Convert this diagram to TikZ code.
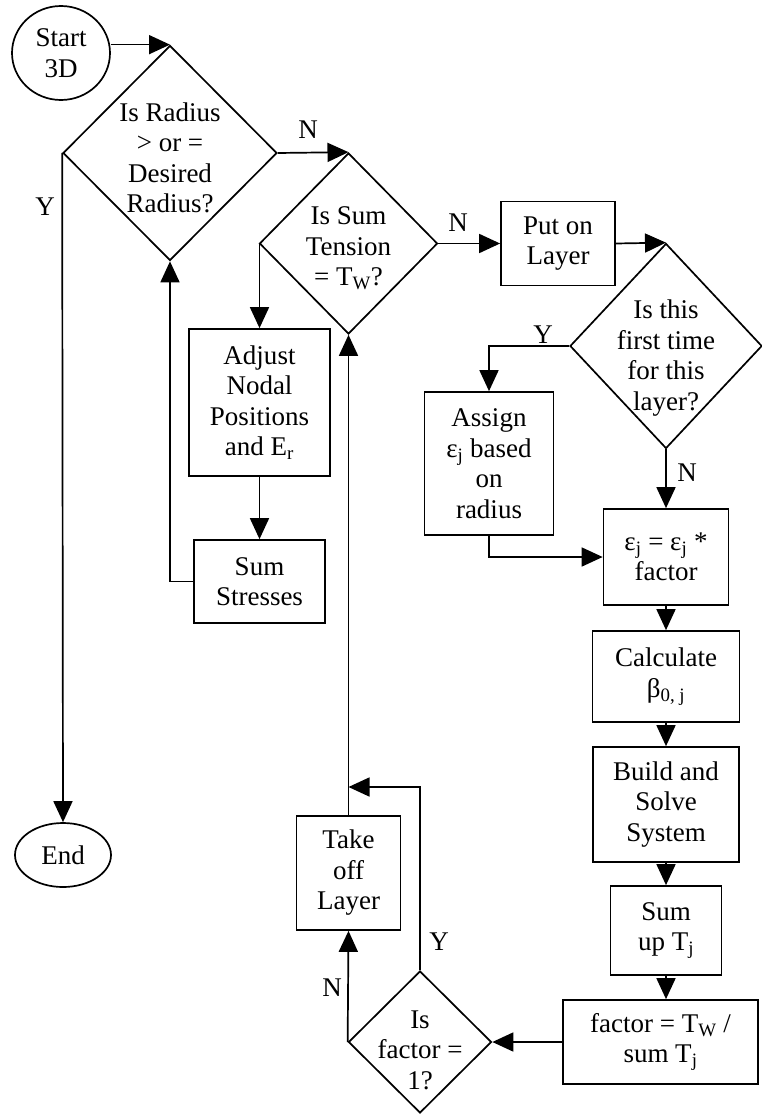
\documentclass[tikz,border=0pt]{standalone}
\usepackage{fontspec}
\setmainfont{Liberation Serif}
\usepackage{tikz}
\usetikzlibrary{shapes.geometric}
\usetikzlibrary{arrows.meta}
\tikzstyle{flow}=[x=1pt, y=-1pt, line width=1.7pt, font=\fontsize{27}{30.5}\selectfont]
\tikzstyle{term}=[ellipse, draw, inner sep=0pt, align=center]
\tikzstyle{box}=[rectangle, draw, inner sep=0pt, align=center]
\tikzstyle{dec}=[diamond, draw, inner sep=0pt]
\tikzstyle{edge}=[-{Triangle[length=21pt, width=19pt]}]
\tikzstyle{edgeLabel}=[inner sep=0pt]

\begin{document}
\begin{tikzpicture}[flow]
			\useasboundingbox (0,0) rectangle (762,1115);
			\draw (61,53) node[term, minimum width=98pt, minimum height=94pt] (start) {Start\\3D};
			\draw (170,153) node[dec, minimum width=214pt, minimum height=215pt, label={[align=center, yshift=-5pt]center:Is Radius\\> or =\\Desired\\Radius?}] (d1) {};
			\draw (63,855) node[term, minimum width=96pt, minimum height=64pt] (end) {End};
			\draw (348.5,243.5) node[dec, minimum width=178pt, minimum height=181pt, label={[align=center, yshift=-5pt]center:Is Sum\\Tension\\= T\textsubscript{W}?}] (d2) {};
			\draw (259.5,402.5) node[box, minimum width=141pt, minimum height=147pt] (adjust) {Adjust\\Nodal\\Positions\\and E\textsubscript{r}};
			\draw (259.5,581.5) node[box, minimum width=131pt, minimum height=83pt] (sumstr) {Sum\\Stresses};
			\draw (558,243.5) node[box, minimum width=114pt, minimum height=84pt] (put) {Put on\\Layer};
			\draw (666,346) node[dec, minimum width=192pt, minimum height=205pt, label={[align=center, yshift=-12pt]center:Is this\\first time\\for this\\layer?}] (d4) {};
			\draw (489,463.5) node[box, minimum width=129pt, minimum height=143pt] (assign) {Assign\\ε\textsubscript{j} based\\on\\radius};
			\draw (666,557) node[box, minimum width=125pt, minimum height=96pt] (epsj) {ε\textsubscript{j} = ε\textsubscript{j} *\\factor};
			\draw (666,676.5) node[box, minimum width=147pt, minimum height=91pt] (calc) {Calculate\\β\textsubscript{0, j}};
			\draw (666,804.5) node[box, minimum width=146pt, minimum height=115pt] (build) {Build and\\Solve\\System};
			\draw (666,930.5) node[box, minimum width=111pt, minimum height=89pt] (sumt) {Sum\\up T\textsubscript{j}};
			\draw (660.5,1042) node[box, minimum width=195pt, minimum height=84pt] (factor) {factor = T\textsubscript{W} /\\sum T\textsubscript{j}};
			\draw (420,1042) node[dec, minimum width=143pt, minimum height=142pt, label={[align=center, yshift=-8pt]center:Is\\factor =\\1?}] (d3) {};
			\draw (348.5,873) node[box, minimum width=104pt, minimum height=114pt] (takeoff) {Take\\off\\Layer};
			\coordinate (yjoin) at (348.5,787);
			% connectors
			\draw[edge] (start.east |- d1.north) -- (d1.north);
			\draw[edge] (d1.west) -- (end.north);
			\draw[edge] (d1.east) -- (d2.north);
			\draw[edge] (d2.west) -| (adjust.north);
			\draw[edge] (adjust) -- (sumstr);
			\draw[edge] (sumstr.west) -| (d1.south);
			\draw[edge] (d2.east) -- (put.west);
			\draw[edge] (put.east) -- (d4.north);
			\draw[edge] (d4.west) -| (assign.north);
			\draw[edge] (d4.south) -- (epsj.north);
			\draw[edge] (assign.south) |- (epsj.west);
			\draw[edge] (epsj) -- (calc);
			\draw[edge] (calc) -- (build);
			\draw[edge] (build) -- (sumt);
			\draw[edge] (sumt.south) -- (sumt.south |- factor.north);
			\draw[edge] (factor.west) -- (d3.east);
			\draw[edge] (d3.west) -- (takeoff.south);
			\draw[edge] (takeoff.north) -- (d2.south);
			\draw[edge] (d3.north) |- (yjoin);
			% branch labels
			\draw (45,207) node[edgeLabel] (y1) {Y};
			\draw (308,130) node[edgeLabel] (n1) {N};
			\draw (458,223) node[edgeLabel] (n2) {N};
			\draw (543,335) node[edgeLabel] (y4) {Y};
			\draw (687,473) node[edgeLabel] (n4) {N};
			\draw (439,942) node[edgeLabel] (y3) {Y};
			\draw (332,988) node[edgeLabel] (n3) {N};
		\end{tikzpicture}
\end{document}
